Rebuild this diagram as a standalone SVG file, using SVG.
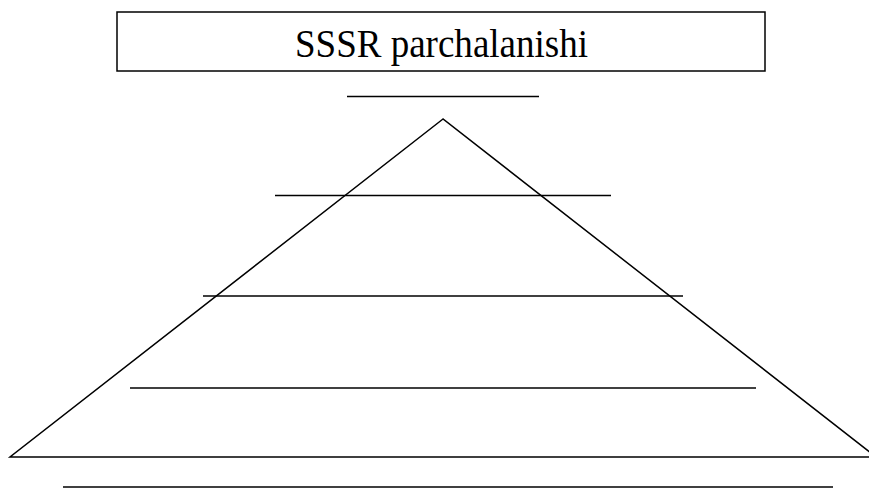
<svg xmlns="http://www.w3.org/2000/svg" width="869" height="488" viewBox="0 0 869 488">
<style>
.ln{stroke:#000;stroke-width:1.5;fill:none}
.box{stroke:#000;stroke-width:1.5;fill:#fff}
.t{font-family:"Liberation Serif","Times New Roman",serif;font-size:39px;fill:#000}
</style>
<rect width="869" height="488" fill="#fff"/>
<g id="title">
<rect class="box" x="117" y="12" width="648" height="59"/>
<text class="t" x="295" y="57" textLength="293" lengthAdjust="spacingAndGlyphs">SSSR parchalanishi</text>
</g>
<g id="pyramid">
<polygon class="ln" points="443,119 10,457 876,457" stroke-linejoin="miter"/>
</g>
<g id="connectors">
<line class="ln" x1="347" y1="96.5" x2="539" y2="96.5"/>
<line class="ln" x1="275" y1="195.5" x2="611" y2="195.5"/>
<line class="ln" x1="203" y1="296" x2="683" y2="296"/>
<line class="ln" x1="130" y1="388" x2="756" y2="388"/>
<line class="ln" x1="63" y1="487" x2="833" y2="487"/>
</g>
</svg>
